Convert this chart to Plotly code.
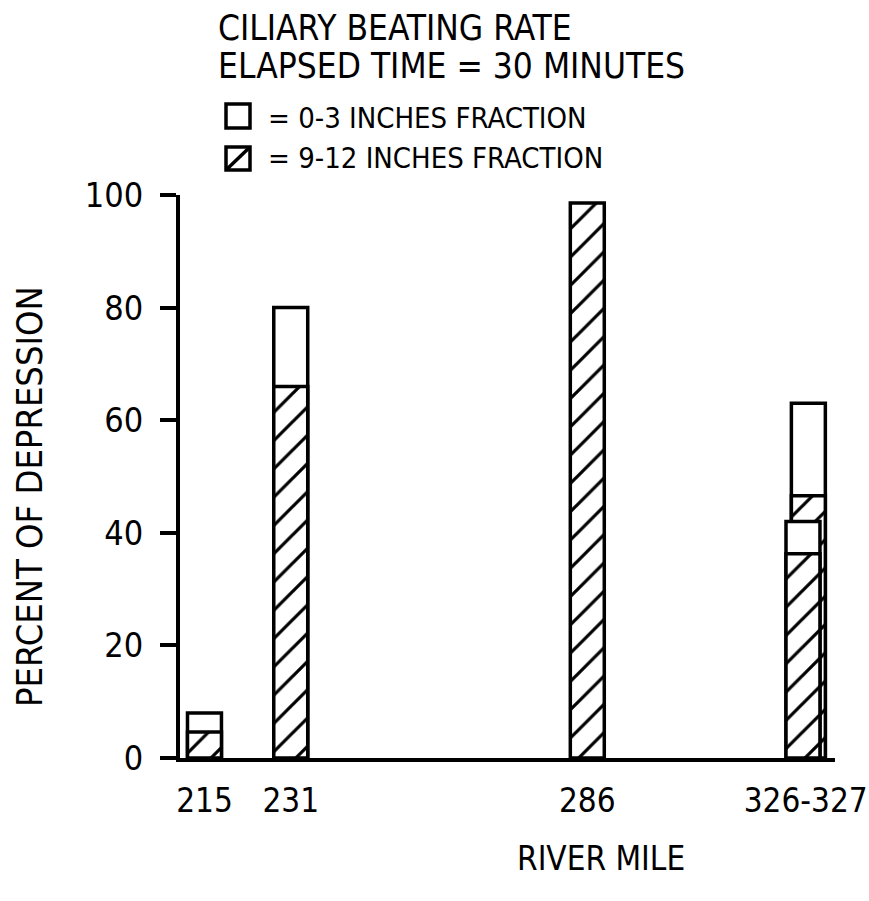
import plotly.graph_objects as go

# ---- data ----
river_mile = [215, 231, 286, 326, 327]
fraction_0_3 = [8, 80, None, 42, 63]          # white (0-3 inches fraction)
fraction_9_12 = [4.6, 66, 98.6, 36.3, 46.6]   # hatched (9-12 inches fraction)
tick_values = [215, 231, 286, 326.5]
tick_labels = ["215", "231", "286", "326-327"]
y_ticks = [0, 20, 40, 60, 80, 100]

COND = "DejaVu Sans Condensed, DejaVu Sans, sans-serif"
BAR_W = 6.3
LINE = dict(color="black", width=3.5)

fig = go.Figure()
# draw from right to left so that the left bar of an overlapping pair is in front
for m, a, b in reversed(list(zip(river_mile, fraction_0_3, fraction_9_12))):
    if a is not None:
        fig.add_trace(go.Bar(
            x=[m], y=[a], width=BAR_W, name="0-3 INCHES FRACTION",
            marker=dict(color="white", line=LINE), showlegend=False))
    if b is not None:
        fig.add_trace(go.Bar(
            x=[m], y=[b], width=BAR_W, name="9-12 INCHES FRACTION",
            marker=dict(color="white", line=LINE,
                        pattern=dict(shape="/", fgcolor="black", bgcolor="white",
                                     fgopacity=1, size=20, solidity=0.16,
                                     fillmode="overlay")),
            showlegend=False))

L, R, T, B = 180, 34, 195, 143
W, H = 869, 901
PW, PH = W - L - R, H - T - B


def px(xp):
    return (xp - L) / PW


def py(yp):
    return (H - B - yp) / PH


annotations = [
    dict(text="CILIARY BEATING RATE", x=px(216), y=py(28), font=dict(size=35)),
    dict(text="ELAPSED TIME = 30 MINUTES", x=px(216), y=py(66), font=dict(size=35)),
    dict(text="= 0-3 INCHES FRACTION", x=px(266), y=py(118), font=dict(size=29)),
    dict(text="= 9-12 INCHES FRACTION", x=px(266), y=py(158), font=dict(size=29)),
    dict(text="RIVER MILE", x=px(601), y=py(858), xanchor="center", font=dict(size=33)),
    dict(text="PERCENT OF DEPRESSION", x=px(30), y=py(497), xanchor="center",
         textangle=-90, font=dict(size=36)),
]
for a in annotations:
    a.update(xref="paper", yref="paper", showarrow=False)
    a.setdefault("xanchor", "left")
    a["yanchor"] = "middle"
    a["font"].update(color="black", family=COND)

shapes = [
    dict(type="rect", x0=px(226), x1=px(250), y0=py(128), y1=py(104)),
    dict(type="rect", x0=px(226), x1=px(250), y0=py(170), y1=py(147)),
    dict(type="line", x0=px(226), x1=px(250), y0=py(170), y1=py(147)),
]
for s in shapes:
    s.update(xref="paper", yref="paper", line=dict(color="black", width=3.5))

fig.update_layout(
    width=W, height=H,
    margin=dict(l=L, r=R, t=T, b=B, autoexpand=False),
    paper_bgcolor="white", plot_bgcolor="white",
    barmode="overlay",
    showlegend=False,
    font=dict(family=COND, color="black"),
    annotations=annotations,
    shapes=shapes,
    xaxis=dict(range=[210.46, 331.94], tickvals=tick_values, ticktext=tick_labels,
               showgrid=False, zeroline=False, showline=True, linecolor="black",
               linewidth=4, ticks="", ticklabelstandoff=10,
               ticklabeloverflow="allow",
               tickfont=dict(size=33, family=COND)),
    yaxis=dict(range=[0, 100], tickvals=y_ticks, showgrid=False, zeroline=False,
               showline=True, linecolor="black", linewidth=4, ticks="outside",
               ticklen=16, tickwidth=3.5, tickcolor="black", ticklabelstandoff=10,
               tickfont=dict(size=34, family=COND)),
)

fig.write_html(
    "out.html",
    config={"displayModeBar": False},
    post_script="document.body.style.margin='0';document.body.style.padding='0';",
)
